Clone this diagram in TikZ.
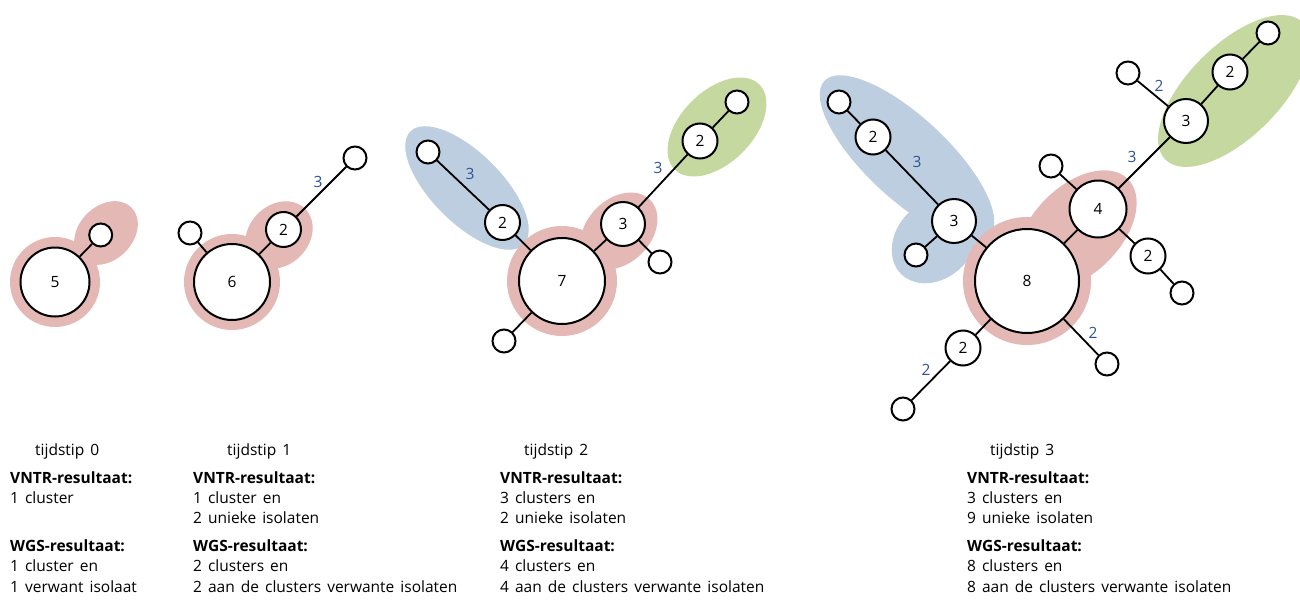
\documentclass[tikz,border=0pt]{standalone}
\usepackage{fontspec}
\setmainfont{Open Sans}[WordSpace=1.5]
\definecolor{pinkc}{HTML}{E4B9B5}
\definecolor{bluec}{HTML}{BDCEE0}
\definecolor{greenc}{HTML}{C5D8A0}
\definecolor{lblc}{HTML}{2F5496}
\pgfdeclarelayer{blob}
\pgfdeclarelayer{blobtop}
\pgfdeclarelayer{edges}
\pgfsetlayers{blob,blobtop,edges,main}
\tikzset{
  iso/.style={circle,draw,fill=white,line width=2pt,minimum size=#1,inner sep=0pt,font=\fontsize{15.5}{15.5}\selectfont},
  link/.style={line width=1.8pt},
  lbl/.style={text=lblc,font=\fontsize{15.5}{15.5}\selectfont,inner sep=0pt},
  txt/.style={anchor=base west,inner sep=0pt,font=\fontsize{15.5}{15.5}\selectfont},
  hdr/.style={anchor=base west,inner sep=0pt,font=\fontsize{15.5}{15.5}\selectfont\bfseries}
}
\begin{document}
\begin{tikzpicture}[x=1pt,y=-1pt]
\useasboundingbox (0,0) rectangle (1300,602);
% ---------- tijdstip 0
\node[iso=69pt] (a5) at (55,282) {5};
\node[iso=23pt] (a0s) at (100.7,235) {};
% ---------- tijdstip 1
\node[iso=76pt] (b6) at (232,282) {6};
\node[iso=35pt] (b2) at (283.5,229.5) {2};
\node[iso=23pt] (bl) at (190,233) {};
\node[iso=23pt] (bt) at (355,158) {};
% ---------- tijdstip 2
\node[iso=86pt] (c7) at (562,281) {7};
\node[iso=44pt] (c3) at (623,224) {3};
\node[iso=35pt] (c2b) at (502.5,222.5) {2};
\node[iso=35pt] (c2g) at (700,141) {2};
\node[iso=23pt] (cs1) at (428,152) {};
\node[iso=23pt] (cs2) at (660,262) {};
\node[iso=23pt] (cs3) at (504,341) {};
\node[iso=23pt] (cs4) at (737,102) {};
% ---------- tijdstip 3
\node[iso=104pt] (d8) at (1027,281) {8};
\node[iso=57pt] (d4) at (1098,209) {4};
\node[iso=44pt] (d3b) at (954,221) {3};
\node[iso=35pt] (d2b) at (873,137) {2};
\node[iso=44pt] (d3g) at (1186,121) {3};
\node[iso=35pt] (d2g) at (1230,72) {2};
\node[iso=35pt] (d2r) at (1148,256) {2};
\node[iso=35pt] (d2bl) at (963,348) {2};
\node[iso=23pt] (ds1) at (839,102) {};
\node[iso=23pt] (ds2) at (916,255) {};
\node[iso=23pt] (ds3) at (1051,166) {};
\node[iso=23pt] (ds4) at (1182,293) {};
\node[iso=23pt] (ds5) at (1268,33) {};
\node[iso=23pt] (ds6) at (1128,73) {};
\node[iso=23pt] (ds7) at (903,409) {};
\node[iso=23pt] (ds8) at (1107,364) {};
% ---------- edges
\begin{pgfonlayer}{edges}
\draw[link] (a5) -- (a0s);
\draw[link] (b6) -- (bl);
\draw[link] (b6) -- (b2);
\draw[link] (b2) -- (bt);
\draw[link] (c7) -- (c2b);
\draw[link] (c2b) -- (cs1);
\draw[link] (c7) -- (c3);
\draw[link] (c3) -- (cs2);
\draw[link] (c7) -- (cs3);
\draw[link] (c3) -- (c2g);
\draw[link] (c2g) -- (cs4);
\draw[link] (d8) -- (d3b);
\draw[link] (d3b) -- (d2b);
\draw[link] (d2b) -- (ds1);
\draw[link] (d3b) -- (ds2);
\draw[link] (d8) -- (d4);
\draw[link] (d4) -- (ds3);
\draw[link] (d4) -- (d2r);
\draw[link] (d2r) -- (ds4);
\draw[link] (d4) -- (d3g);
\draw[link] (d3g) -- (d2g);
\draw[link] (d2g) -- (ds5);
\draw[link] (d3g) -- (ds6);
\draw[link] (d8) -- (d2bl);
\draw[link] (d2bl) -- (ds7);
\draw[link] (d8) -- (ds8);
\end{pgfonlayer}
% ---------- blobs
\begin{pgfonlayer}{blob}
\fill[bluec,rotate around={-45:(467,188)}] (467,188) ellipse [x radius=80,y radius=35];
\fill[greenc,rotate around={45:(717,127)}] (717,127) ellipse [x radius=60,y radius=36];
\fill[bluec,rotate around={-43:(907,158)}] (907,158) ellipse [x radius=113,y radius=41];
\fill[bluec,rotate around={45:(935,240)}] (935,240) ellipse [x radius=48,y radius=38];
\fill[greenc,rotate around={45:(1234,91)}] (1234,91) ellipse [x radius=97,y radius=46];
\end{pgfonlayer}
\begin{pgfonlayer}{blobtop}
\fill[pinkc] (55,282) circle [radius=45];
\fill[pinkc,rotate around={45:(106,233)}] (106,233) ellipse [x radius=36,y radius=27];
\fill[pinkc] (232,282) circle [radius=48];
\fill[pinkc,rotate around={45:(279,235)}] (279,235) ellipse [x radius=37,y radius=30];
\fill[pinkc] (562,281) circle [radius=55];
\fill[pinkc,rotate around={45:(619,231)}] (619,231) ellipse [x radius=44,y radius=32];
\fill[pinkc] (1027,281) circle [radius=64];
\fill[pinkc,rotate around={45:(1077,230)}] (1077,230) ellipse [x radius=72,y radius=44];
\end{pgfonlayer}
% ---------- edge labels
\node[lbl] (l1) at (318,182) {3};
\node[lbl] (l2) at (470,174) {3};
\node[lbl] (l3) at (658,168) {3};
\node[lbl] (l4) at (917,162) {3};
\node[lbl] (l5) at (1132,157) {3};
\node[lbl] (l6) at (1159,86) {2};
\node[lbl] (l7) at (1093,333) {2};
\node[lbl] (l8) at (926,370) {2};
% ---------- texts
\node[txt] (t0) at (35,455) {tijdstip 0};
\node[hdr] (t0v) at (10,483) {VNTR-resultaat:};
\node[txt] (t0v1) at (10,503) {1 cluster};
\node[hdr] (t0w) at (10,551) {WGS-resultaat:};
\node[txt] (t0w1) at (10,571) {1 cluster en};
\node[txt] (t0w2) at (10,592) {1 verwant isolaat};

\node[txt] (t1) at (227,455) {tijdstip 1};
\node[hdr] (t1v) at (193,483) {VNTR-resultaat:};
\node[txt] (t1v1) at (193,503) {1 cluster en};
\node[txt] (t1v2) at (193,523) {2 unieke isolaten};
\node[hdr] (t1w) at (193,551) {WGS-resultaat:};
\node[txt] (t1w1) at (193,571) {2 clusters en};
\node[txt] (t1w2) at (193,592) {2 aan de clusters verwante isolaten};

\node[txt] (t2) at (524,455) {tijdstip 2};
\node[hdr] (t2v) at (500,483) {VNTR-resultaat:};
\node[txt] (t2v1) at (500,503) {3 clusters en};
\node[txt] (t2v2) at (500,523) {2 unieke isolaten};
\node[hdr] (t2w) at (500,551) {WGS-resultaat:};
\node[txt] (t2w1) at (500,571) {4 clusters en};
\node[txt] (t2w2) at (500,592) {4 aan de clusters verwante isolaten};

\node[txt] (t3) at (990,455) {tijdstip 3};
\node[hdr] (t3v) at (967,483) {VNTR-resultaat:};
\node[txt] (t3v1) at (967,503) {3 clusters en};
\node[txt] (t3v2) at (967,523) {9 unieke isolaten};
\node[hdr] (t3w) at (967,551) {WGS-resultaat:};
\node[txt] (t3w1) at (967,571) {8 clusters en};
\node[txt] (t3w2) at (967,592) {8 aan de clusters verwante isolaten};
\end{tikzpicture}
\end{document}
